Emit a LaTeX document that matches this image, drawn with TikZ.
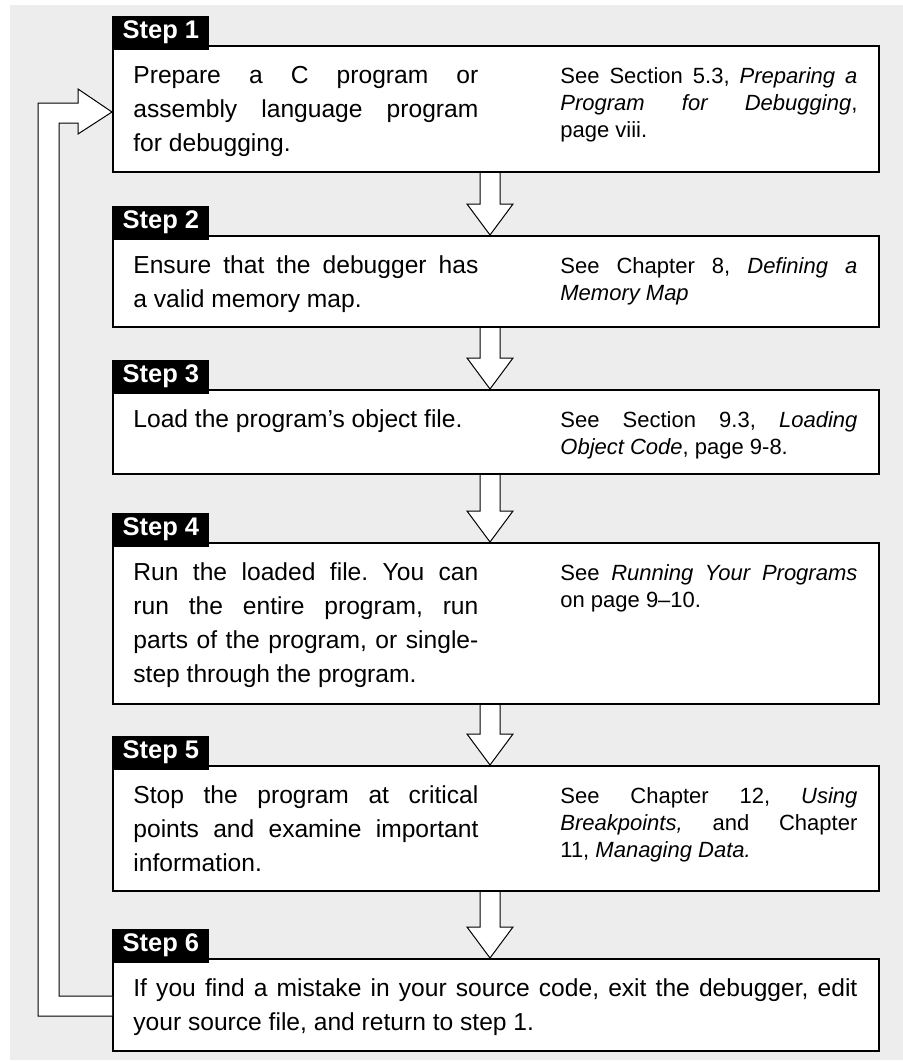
\documentclass[tikz,border=0pt]{standalone}
\usepackage{fontspec}
\setmainfont{Liberation Sans}
\usetikzlibrary{calc,shadows}
\definecolor{panelgray}{HTML}{EDEDED}
\frenchspacing
\hyphenpenalty=10000

\tikzset{
  stepbox/.style={draw, line width=1pt, fill=white, anchor=north west, inner sep=0pt,
    minimum width=383pt,
    drop shadow={shadow xshift=0.5pt, shadow yshift=-0.5pt, fill=black, opacity=1}},
  steplabel/.style={fill=black, text=white, anchor=south west, inner sep=0pt,
    minimum width=48.5pt, minimum height=17pt,
    font=\fontsize{12.75pt}{15pt}\selectfont\bfseries},
  maintext/.style={anchor=base west, inner sep=0pt, text width=172.5pt, align=justify,
    font=\fontsize{12.3pt}{17pt}\selectfont},
  seetext/.style={anchor=base west, inner sep=0pt, text width=148.5pt, align=justify,
    font=\fontsize{11pt}{13.5pt}\selectfont},
  hollow/.style={draw, fill=white, line width=0.5pt, line join=miter}
}

% hollow arrow from the bottom of one box to the top of the next
\newcommand\flowarrow[2]{%
  \draw[hollow] ($(ax |- #1.south)+(-10,0)$) -- ($(ax |- #2.north)+(-10,-31)$)
    -- ++(-13,0) -- (ax |- #2.north) -- ++(23,-31) -- ++(-13,0)
    -- ($(ax |- #1.south)+(10,0)$);}

\begin{document}
\begin{tikzpicture}[x=0.5pt, y=-0.5pt]
   \useasboundingbox (0,0) rectangle (903,1061);
   \fill[panelgray] (10,5) rectangle (903,1060);
   \coordinate (ax) at (490,0);

   % boxes
   \node[stepbox, minimum height=63pt] (s1) at (112,45) {};
   \node[stepbox, minimum height=45.5pt] (s2) at (112,235) {};
   \node[stepbox, minimum height=42pt] (s3) at (112,389) {};
   \node[stepbox, minimum height=80.5pt] (s4) at (112,542) {};
   \node[stepbox, minimum height=62.5pt] (s5) at (112,765) {};
   \node[stepbox, minimum height=46pt] (s6) at (112,958) {};

   % arrows between the steps
   \flowarrow{s1}{s2}
   \flowarrow{s2}{s3}
   \flowarrow{s3}{s4}
   \flowarrow{s4}{s5}
   \flowarrow{s5}{s6}

   % back to step 1
   \draw[hollow] ($(s6.north west)+(0,58)$) -- ++(-74,0) |- ($(s1.north west)+(-34,58)$)
     -- ++(0,-14) -- ($(s1.north west)+(0,67)$) -- ++(-34,22) -- ++(0,-11) -- ++(-19,0)
     |- ($(s6.north west)+(0,38)$);

   % labels
   \node[steplabel] (l1) at ($(s1.north west)+(0,5)$) {Step 1};
   \node[steplabel] (l2) at ($(s2.north west)+(0,5)$) {Step 2};
   \node[steplabel] (l3) at ($(s3.north west)+(0,5)$) {Step 3};
   \node[steplabel] (l4) at ($(s4.north west)+(0,5)$) {Step 4};
   \node[steplabel] (l5) at ($(s5.north west)+(0,5)$) {Step 5};
   \node[steplabel] (l6) at ($(s6.north west)+(0,5)$) {Step 6};

   % texts
   \node[maintext] (t1) at ($(s1.north west)+(21,38)$)
     {Prepare a C program or\linebreak assembly language program\linebreak for debugging.};
   \node[seetext] (r1) at ($(s1.north west)+(448,38)$)
     {See Section 5.3, \textit{Preparing a}\linebreak \textit{Program for Debugging},\linebreak page viii.};
   \node[maintext] (t2) at ($(s2.north west)+(21,38)$)
     {Ensure that the debugger has\linebreak a valid memory map.};
   \node[seetext] (r2) at ($(s2.north west)+(448,38)$)
     {See Chapter 8, \textit{Defining a}\linebreak \textit{Memory Map}};
   \node[maintext] (t3) at ($(s3.north west)+(21,38)$)
     {Load the program’s object file.};
   \node[seetext] (r3) at ($(s3.north west)+(448,38)$)
     {See Section 9.3, \textit{Loading}\linebreak \textit{Object Code}, page 9-8.};
   \node[maintext] (t4) at ($(s4.north west)+(21,38)$)
     {Run the loaded file. You can\linebreak run the entire program, run\linebreak parts of the program, or single-\linebreak step through the program.};
   \node[seetext] (r4) at ($(s4.north west)+(448,38)$)
     {See \textit{Running Your Programs}\linebreak on page 9--10.};
   \node[maintext] (t5) at ($(s5.north west)+(21,38)$)
     {Stop the program at critical\linebreak points and examine important\linebreak information.};
   \node[seetext] (r5) at ($(s5.north west)+(448,38)$)
     {See Chapter 12, \textit{Using}\linebreak \textit{Breakpoints,} and Chapter\linebreak 11, \textit{Managing Data.}};
   \node[maintext, text width=362pt] (t6) at ($(s6.north west)+(21,38)$)
     {If you find a mistake in your source code, exit the debugger, edit\linebreak your source file, and return to step 1.};
\end{tikzpicture}
\end{document}
